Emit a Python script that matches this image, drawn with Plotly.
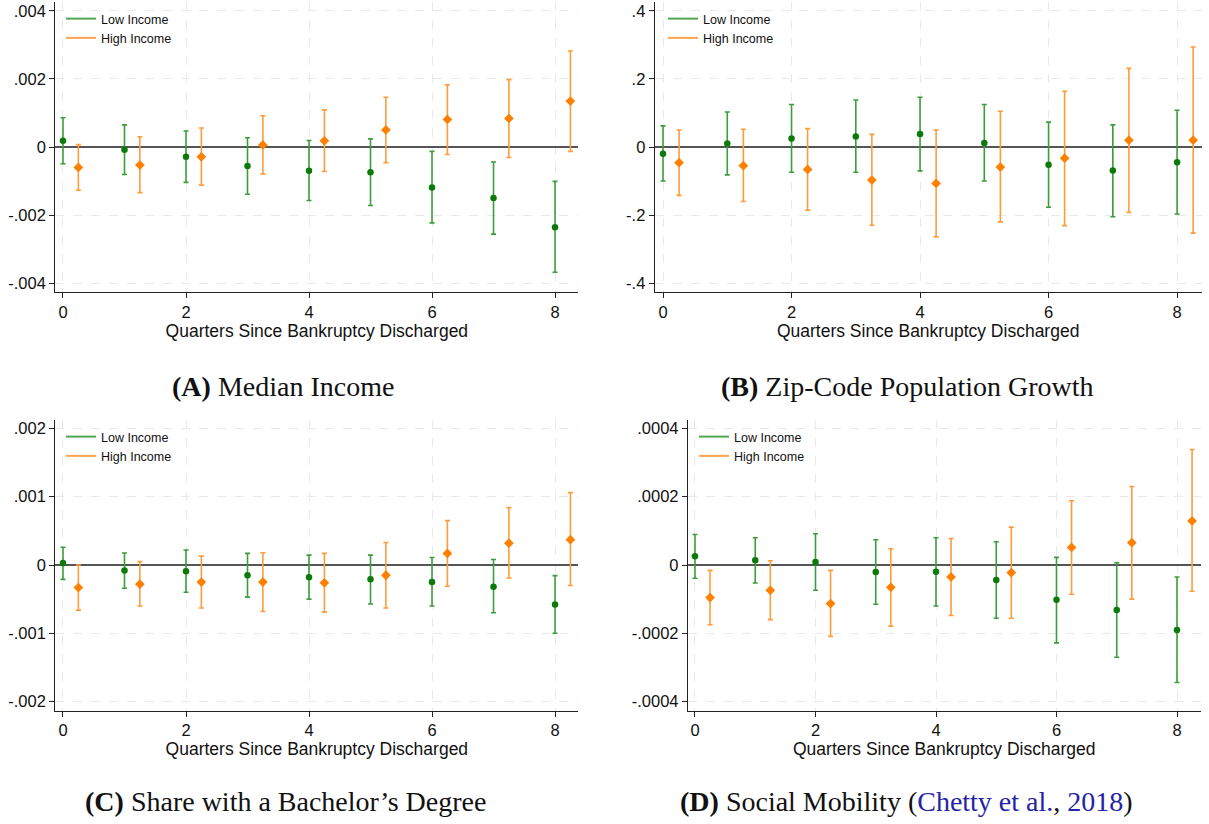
import plotly.graph_objects as go

W, H = 1209, 824

quarters = [0, 1, 2, 3, 4, 5, 6, 7, 8]

# Panel A: Median Income
a_low_est = [0.00018, -0.00008, -0.00029, -0.00056, -0.00070, -0.00074, -0.00119, -0.00150, -0.00236]
a_low_lo = [-0.00049, -0.00081, -0.00104, -0.00139, -0.00157, -0.00172, -0.00223, -0.00256, -0.00368]
a_low_hi = [0.00086, 0.00065, 0.00047, 0.00027, 0.00019, 0.00024, -0.00013, -0.00044, -0.00101]
a_high_est = [-0.00060, -0.00053, -0.00029, 0.00006, 0.00018, 0.00050, 0.00081, 0.00084, 0.00135]
a_high_lo = [-0.00127, -0.00134, -0.00112, -0.00079, -0.00072, -0.00046, -0.00022, -0.00031, -0.00013]
a_high_hi = [0.00007, 0.00030, 0.00056, 0.00092, 0.00109, 0.00146, 0.00183, 0.00198, 0.00282]

# Panel B: Zip-Code Population Growth
b_low_est = [-0.020, 0.010, 0.025, 0.031, 0.038, 0.012, -0.052, -0.069, -0.045]
b_low_lo = [-0.100, -0.082, -0.074, -0.074, -0.070, -0.100, -0.177, -0.205, -0.197]
b_low_hi = [0.062, 0.103, 0.125, 0.138, 0.146, 0.125, 0.073, 0.065, 0.108]
b_high_est = [-0.046, -0.055, -0.066, -0.097, -0.107, -0.059, -0.033, 0.020, 0.020]
b_high_lo = [-0.142, -0.160, -0.186, -0.230, -0.264, -0.220, -0.231, -0.192, -0.253]
b_high_hi = [0.050, 0.052, 0.054, 0.037, 0.050, 0.105, 0.164, 0.231, 0.294]

# Panel C: Share with a Bachelor's Degree
c_low_est = [0.00003, -0.00008, -0.00009, -0.00015, -0.00018, -0.00021, -0.00025, -0.00032, -0.00058]
c_low_lo = [-0.00021, -0.00034, -0.00040, -0.00047, -0.00050, -0.00057, -0.00060, -0.00070, -0.00100]
c_low_hi = [0.00026, 0.000175, 0.00022, 0.00017, 0.000145, 0.000145, 0.00011, 0.00008, -0.000155]
c_high_est = [-0.00033, -0.00028, -0.00025, -0.00025, -0.00026, -0.00015, 0.00017, 0.00032, 0.00037]
c_high_lo = [-0.00066, -0.00060, -0.00063, -0.00068, -0.00069, -0.00063, -0.00031, -0.00019, -0.00030]
c_high_hi = [0.0, 0.00005, 0.00013, 0.00018, 0.00017, 0.00033, 0.00065, 0.00084, 0.00106]

# Panel D: Social Mobility
d_low_est = [0.0000253, 0.0000136, 0.0000088, -0.0000204, -0.0000195, -0.0000438, -0.000102, -0.000132, -0.00019]
d_low_lo = [-0.0000389, -0.0000525, -0.000074, -0.000115, -0.00012, -0.000156, -0.000228, -0.00027, -0.000344]
d_low_hi = [0.0000895, 0.0000798, 0.0000915, 0.000074, 0.00008, 0.000068, 0.0000224, 0.0000068, -0.000035]
d_high_est = [-0.0000954, -0.000074, -0.000113, -0.0000652, -0.000035, -0.0000224, 0.0000516, 0.0000652, 0.000129]
d_high_lo = [-0.000175, -0.00016, -0.000209, -0.000179, -0.000148, -0.000156, -0.0000856, -0.0001, -0.0000769]
d_high_hi = [-0.0000156, 0.0000126, -0.0000156, 0.0000477, 0.0000778, 0.000111, 0.000188, 0.00023, 0.000338]

a_ticks = [-0.004, -0.002, 0, 0.002, 0.004]
a_ticktext = ["-.004", "-.002", "0", ".002", ".004"]
b_ticks = [-0.4, -0.2, 0, 0.2, 0.4]
b_ticktext = ["-.4", "-.2", "0", ".2", ".4"]
c_ticks = [-0.002, -0.001, 0, 0.001, 0.002]
c_ticktext = ["-.002", "-.001", "0", ".001", ".002"]
d_ticks = [-0.0004, -0.0002, 0, 0.0002, 0.0004]
d_ticktext = ["-.0004", "-.0002", "0", ".0002", ".0004"]
x_ticks = [0, 2, 4, 6, 8]

captions = [
    "<b>(A)</b> Median Income",
    "<b>(B)</b> Zip-Code Population Growth",
    "<b>(C)</b> Share with a Bachelor’s Degree",
    "<b>(D)</b> Social Mobility (<span style='color:#2424a6'>Chetty et al.</span>, <span style='color:#2424a6'>2018</span>)",
]
x_title = "Quarters Since Bankruptcy Discharged"
series_names = ["Low Income", "High Income"]

GREEN = "#0b7a0b"
GREEN_BAR = "#3d9c3d"
GREEN_LEG = "#4fa84f"
ORANGE = "#ff8000"
ORANGE_BAR = "#ff9c3a"
ORANGE_LEG = "#ffa552"
HIGH_OFFSET = 0.25

panels = [
    dict(low=(a_low_est, a_low_lo, a_low_hi), high=(a_high_est, a_high_lo, a_high_hi),
         ticks=a_ticks, ticktext=a_ticktext, yr=0.00426,
         xdom=(55.3, 578.4), ydom=(2, 292), xr=(-0.125, 8.38),
         leg=(61, 4), cap=(283, 386)),
    dict(low=(b_low_est, b_low_lo, b_low_hi), high=(b_high_est, b_high_lo, b_high_hi),
         ticks=b_ticks, ticktext=b_ticktext, yr=0.426,
         xdom=(654.8, 1201.5), ydom=(2, 292), xr=(-0.128, 8.38),
         leg=(663, 4), cap=(907, 386)),
    dict(low=(c_low_est, c_low_lo, c_low_hi), high=(c_high_est, c_high_lo, c_high_hi),
         ticks=c_ticks, ticktext=c_ticktext, yr=0.00213,
         xdom=(55.3, 578.4), ydom=(419.5, 710.5), xr=(-0.125, 8.38),
         leg=(61, 422), cap=(285, 801)),
    dict(low=(d_low_est, d_low_lo, d_low_hi), high=(d_high_est, d_high_lo, d_high_hi),
         ticks=d_ticks, ticktext=d_ticktext, yr=0.000426,
         xdom=(688, 1200.5), ydom=(419.5, 710.5), xr=(-0.116, 8.39),
         leg=(694, 422), cap=(906, 801)),
]

fig = go.Figure()
layout = {}
annotations = []

for i, p in enumerate(panels):
    n = i + 1
    xa = "x" if n == 1 else f"x{n}"
    ya = "y" if n == 1 else f"y{n}"
    legname = "legend" if n == 1 else f"legend{n}"

    for key, mcol, bcol, sym, msize, xs in [
        ("low", GREEN, GREEN_BAR, "circle", 6.5, list(quarters)),
        ("high", ORANGE, ORANGE_BAR, "diamond", 7.5, [q + HIGH_OFFSET for q in quarters]),
    ]:
        est, lo, hi = p[key]
        fig.add_trace(go.Scatter(
            x=xs, y=est, mode="markers", xaxis=xa, yaxis=ya, showlegend=False,
            marker=dict(color=mcol, size=msize, symbol=sym, line=dict(width=0)),
            error_y=dict(type="data", symmetric=False,
                         array=[h - e for h, e in zip(hi, est)],
                         arrayminus=[e - l for e, l in zip(est, lo)],
                         color=bcol, thickness=1.6, width=2.5),
        ))

    for name, col in zip(series_names, [GREEN_LEG, ORANGE_LEG]):
        fig.add_trace(go.Scatter(
            x=[None], y=[None], mode="lines", name=name, xaxis=xa, yaxis=ya,
            legend=legname, line=dict(color=col, width=2),
        ))

    layout[legname] = dict(
        x=p["leg"][0] / W, y=1 - p["leg"][1] / H, xanchor="left", yanchor="top",
        bgcolor="rgba(0,0,0,0)", borderwidth=0,
        font=dict(family="Liberation Sans, Arial", size=12.5, color="#111"),
        itemwidth=30, tracegroupgap=0,
    )

    xkey = "xaxis" if n == 1 else f"xaxis{n}"
    ykey = "yaxis" if n == 1 else f"yaxis{n}"
    layout[xkey] = dict(
        domain=[p["xdom"][0] / W, p["xdom"][1] / W], anchor=ya,
        range=list(p["xr"]), tickvals=x_ticks, ticktext=[str(v) for v in x_ticks],
        showgrid=True, gridcolor="#e9e9e9", griddash="dash", gridwidth=1,
        zeroline=False, showline=True, linecolor="#222", linewidth=1.3,
        ticks="outside", ticklen=5, tickcolor="#222", tickwidth=1.2,
        tickfont=dict(family="Liberation Sans, Arial", size=16.5, color="#111"),
        title=dict(text=x_title, standoff=3,
                   font=dict(family="Liberation Sans, Arial", size=17.5, color="#111")),
    )
    layout[ykey] = dict(
        domain=[1 - p["ydom"][1] / H, 1 - p["ydom"][0] / H], anchor=xa,
        range=[-p["yr"], p["yr"]], tickvals=p["ticks"], ticktext=p["ticktext"],
        showgrid=True, gridcolor="#e9e9e9", griddash="dash", gridwidth=1,
        zeroline=True, zerolinecolor="#555", zerolinewidth=1.5,
        showline=True, linecolor="#222", linewidth=1.3,
        ticks="outside", ticklen=5, tickcolor="#222", tickwidth=1.2,
        tickfont=dict(family="Liberation Sans, Arial", size=16.5, color="#111"),
    )

    annotations.append(dict(
        text=captions[i], x=p["cap"][0] / W, y=1 - p["cap"][1] / H,
        xref="paper", yref="paper", xanchor="center", yanchor="middle",
        showarrow=False,
        font=dict(family="Liberation Serif, Times New Roman, serif", size=28, color="#111"),
    ))

fig.update_layout(
    width=W, height=H, margin=dict(l=0, r=0, t=0, b=0),
    paper_bgcolor="white", plot_bgcolor="white",
    annotations=annotations, **layout,
)

fig.write_html("out.html")
